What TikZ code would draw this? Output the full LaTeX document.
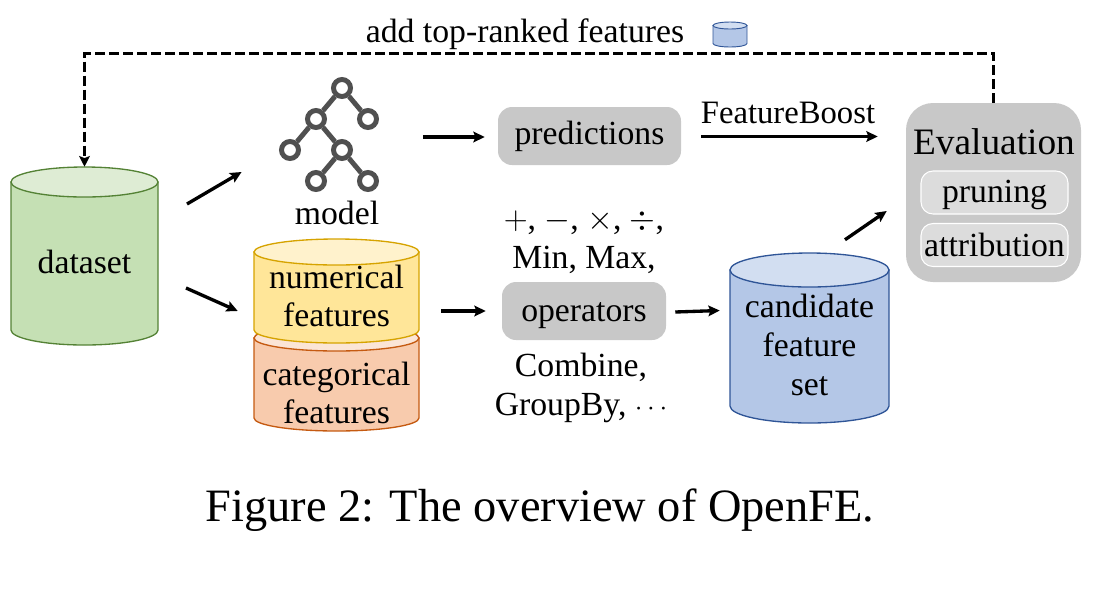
\documentclass[tikz,border=0pt]{standalone}
\usepackage{fontspec}
\setmainfont{Liberation Serif}
\usetikzlibrary{arrows.meta}
\usetikzlibrary{calc,positioning}
\def\px{0.75pt}
\definecolor{boxgray}{HTML}{C8C8C8}
\definecolor{subgray}{HTML}{DCDCDC}
\definecolor{treegray}{HTML}{505050}
\definecolor{greenline}{RGB}{84,130,53}
\definecolor{greenbody}{RGB}{197,224,180}
\definecolor{greentop}{RGB}{222,236,212}
\definecolor{yellowline}{RGB}{214,163,0}
\definecolor{yellowbody}{RGB}{255,230,153}
\definecolor{yellowtop}{RGB}{255,242,204}
\definecolor{orangeline}{RGB}{197,90,17}
\definecolor{orangebody}{RGB}{248,203,173}
\definecolor{orangetop}{RGB}{251,229,214}
\definecolor{blueline}{RGB}{47,85,151}
\definecolor{bluebody}{RGB}{180,199,231}
\definecolor{bluetop}{RGB}{210,222,241}
\tikzset{
    txt/.style={font=\fontsize{25.3}{29}\selectfont, inner sep=0pt, align=center},
    opbox/.style={rounded corners=14*\px, fill=boxgray, inner sep=0pt, minimum width=183*\px, minimum height=58*\px},
    subbox/.style={rounded corners=12*\px, fill=subgray, draw=white, line width=0.8pt, inner sep=0pt, minimum width=147*\px, minimum height=43*\px},
    leaf/.style={circle, draw=treegray, line width=3.7pt, minimum size=17*\px, inner sep=0pt},
    link/.style={line width=2.5pt, -{Stealth[length=8.5pt,width=8pt,inset=1.5pt]}},
    back/.style={line width=2.5pt, dash pattern=on 7.5pt off 3pt, -{Stealth[length=8pt,width=8pt,inset=1.5pt]}},
}
% name, centre x, top y, bottom y, half width, end radius, colour prefix, line width
\newcommand{\store}[8]{
    \path[draw=#7line, fill=#7body, line width=#8] (#2-#5,#3+#6) -- (#2-#5,#4-#6)
        arc[start angle=180, end angle=0, x radius=#5, y radius=#6] -- (#2+#5,#3+#6) -- cycle;
    \path[draw=#7line, fill=#7top, line width=#8] (#2,#3+#6) ellipse[x radius=#5, y radius=#6];
    \node[inner sep=0pt, minimum width=2*#5*\px, minimum height={(#4-#3)*\px}] (#1) at (#2,{(#3+#4)/2}) {};
}
\begin{document}
\begin{tikzpicture}[x=0.75pt,y=-0.75pt]
    \useasboundingbox (0,0) rectangle (1107,601);

    % stores
    \store{dataset}{84.5}{167}{345}{73.5}{15}{green}{1pt}
    \store{categorical}{336.5}{325}{431}{82.5}{13}{orange}{1pt}
    \store{numerical}{336.5}{239}{343}{82.5}{13}{yellow}{1pt}
    \store{candidate}{809.5}{253}{423}{79.5}{17}{blue}{1pt}
    \store{legend}{730}{22}{47}{17}{3.5}{blue}{0.7pt}

    \node[txt] (datasettxt) at (84.5,262) {dataset};
    \node[txt] (numericaltxt) at (336.5,296) {numerical\\features};
    \node[txt] (categoricaltxt) at (336.5,393) {categorical\\features};
    \node[txt] (candidatetxt) at (809.5,345) {candidate\\feature\\set};

    % tree of the model
    \foreach \name/\x/\y in {t1/342/88, t2/316/119, t3/368/119, t4/290/150, t5/342/150, t6/316/181, t7/368/181}
        \node[leaf] (\name) at (\x,\y) {};
    \foreach \a/\b in {t1/t2, t1/t3, t2/t4, t2/t5, t5/t6, t5/t7}
        \draw[treegray, line width=3.7pt] (\a) -- (\b);
    \node[txt] (model) at (337,213) {model};

    % boxes
    \node[opbox, txt] (predictions) at (589.5,136) {predictions};
    \node[opbox, minimum width=164*\px] (operators) at (584,311) {};
    \node[txt] (operatorstxt) at (584,314) {\strut operators};
    \node[txt] (opstop) at (584,242) {$+$, $-$, $\times$, $\div$,\\Min, Max,};
    \node[txt] (opsbot) at (581,388) {Combine,\\GroupBy, {\fontsize{20}{24}\selectfont$\cdots$}};

    \node[fill=boxgray, rounded corners=27*\px, minimum width=175*\px, minimum height=179*\px] (evaluation) at (993.5,192.5) {};
    \node[txt, font=\fontsize{28}{29}\selectfont] (evaluationtxt) at (994,142) {Evaluation};
    \node[subbox] (pruning) at (994.5,192.5) {};
    \node[txt] (pruningtxt) at (994.5,194.5) {pruning};
    \node[subbox, txt] (attribution) at (994.5,245) {attribution};

    % connectors
    \draw[link] ($(dataset.center)+(102.5,-52)$) -- ($(model.west)+(-53,-41)$);
    \draw[link] ($(dataset.center)+(101.5,32)$) -- ($(numerical.west)+(-16,20)$);
    \draw[link] ($(numerical.east)+(22,20)$) -- ($(operators.west)+(-16,0)$);
    \draw[link] ($(operators.east)+(9,1)$) -- ($(candidate.west)+(-10,-27.5)$);
    \draw[link] ($(t5.east)+(70,-13)$) -- ($(predictions.west)+(-13,1)$);
    \draw[link] ($(predictions.east)+(20,0.5)$) -- ($(evaluation.west)+(-28,-56)$);
    \draw[link] ($(candidate.north)+(35.5,-13)$) -- ($(evaluation.west)+(-19,18.5)$);
    \node[txt, font=\fontsize{24.5}{29}\selectfont] (boost) at (788,113) {FeatureBoost};

    \draw[back] (evaluation.north) -- ++(0,-49) coordinate (turnr) -| (dataset.north);
    \node[txt] (addtxt) at (525,34) {add top-ranked features};

    % caption
    \node[font=\fontsize{34.8}{36}\selectfont, inner sep=0pt] (caption) at (540,510) {Figure 2: The overview of OpenFE.};
\end{tikzpicture}
\end{document}
